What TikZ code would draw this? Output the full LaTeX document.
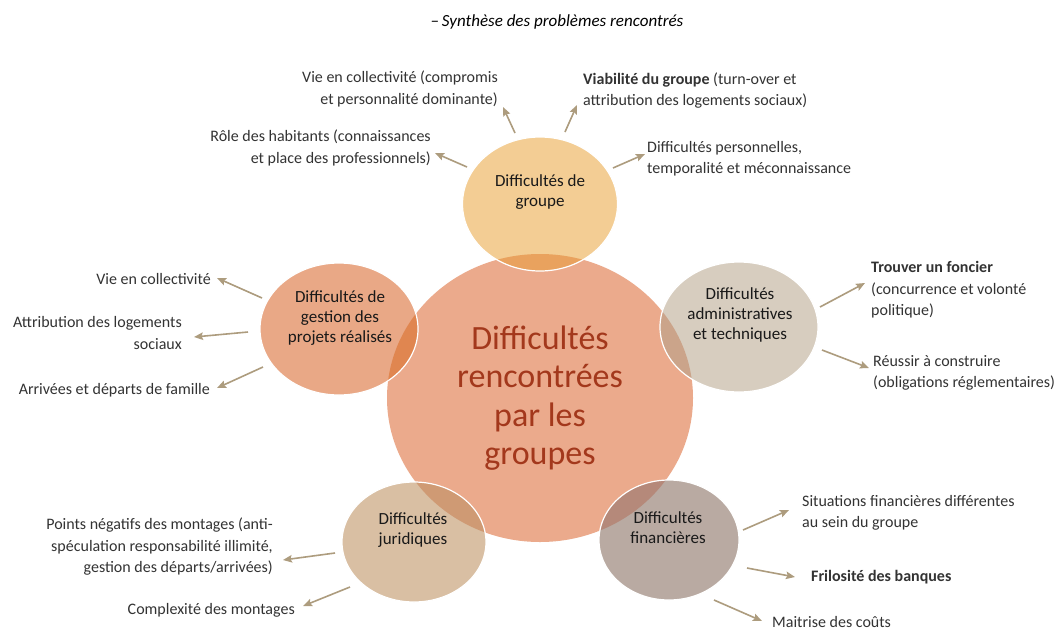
\documentclass[tikz,border=0pt]{standalone}
\usepackage{fontspec}
\setmainfont{Carlito}
\usetikzlibrary{shapes.geometric,arrows.meta}
\definecolor{ctrc}{HTML}{EBAA8C}
\definecolor{ctrt}{HTML}{A3381C}
\definecolor{grpc}{HTML}{F3CD94}
\definecolor{grpo}{HTML}{E9A25E}
\definecolor{gesc}{HTML}{E9A886}
\definecolor{geso}{HTML}{E08650}
\definecolor{admc}{HTML}{D7CDBF}
\definecolor{admo}{HTML}{CBA48A}
\definecolor{jurc}{HTML}{D9BFA3}
\definecolor{juro}{HTML}{CF9A74}
\definecolor{finc}{HTML}{B9AAA2}
\definecolor{fino}{HTML}{B5897A}
\definecolor{arrc}{HTML}{AD9C7E}
\definecolor{labc}{HTML}{333333}
\newcommand\mybub[7]{%
  \node[ellipse, inner sep=0pt, outer sep=0pt, minimum width={2*#4pt}, minimum height={2*#5pt}, fill=#6] (#1) at (#2,#3) {};
  \begin{scope}
    \clip (540,398) ellipse [x radius=153, y radius=144];
    \fill[#7] (#2,#3) ellipse [x radius=#4, y radius=#5];
  \end{scope}
  \draw[white, line width=1.2pt] (#2,#3) ellipse [x radius=#4, y radius=#5];
}
\begin{document}
\begin{tikzpicture}[x=1pt,y=-1pt,
  lab/.style={font=\fontsize{16}{21.5}\selectfont, text=labc, inner sep=0pt},
  bubtext/.style={font=\fontsize{17}{20}\selectfont, text=black!90, align=center, inner sep=0pt},
  arr/.style={draw=arrc, line width=1.6pt, -{Stealth[length=9pt,width=7.5pt,inset=1.5pt]}}]
\useasboundingbox (0,0) rectangle (1063,630);
\fill[white] (0,0) rectangle (1063,630);

% title
\node[font=\fontsize{17}{20}\selectfont\itshape, text=black, inner sep=0pt] (title) at (557,22) {–\,Synthèse des problèmes rencontrés};

% central
\node[ellipse, inner sep=0pt, minimum width=306pt, minimum height=288pt, fill=ctrc] (ctr) at (540,398) {};

% bubbles
\mybub{grp}{540}{204}{77.5}{67}{grpc}{grpo}
\mybub{ges}{339}{329}{79}{66}{gesc}{geso}
\mybub{adm}{739}{327}{79}{65}{admc}{admo}
\mybub{jur}{414}{542}{72}{60}{jurc}{juro}
\mybub{fin}{669}{540}{70}{60}{finc}{fino}

% bubble texts
\node[font=\fontsize{34}{38.5}\selectfont, text=ctrt, align=center, inner sep=0pt] (ctrt) at (540,398) {Difficultés\\rencontrées\\par les\\groupes};
\node[bubtext] (grpt) at (540,192) {Difficultés de\\groupe};
\node[bubtext] (gest) at (340,318) {Difficultés de\\gestion des\\projets réalisés};
\node[bubtext] (admt) at (740,315) {Difficultés\\administratives\\et techniques};
\node[bubtext] (jurt) at (413,530) {Difficultés\\juridiques};
\node[bubtext] (fint) at (668,528) {Difficultés\\financières};

% labels
\node[lab, anchor=east, align=right] (l1) at (498,89) {Vie en collectivité (compromis\\et personnalité dominante)};
\node[lab, anchor=east, align=right] (l2) at (431,148) {Rôle des habitants (connaissances\\et place des professionnels)};
\node[lab, anchor=west, align=left] (l3) at (583,90.5) {\textbf{Viabilité du groupe} (turn-over et\\attribution des logements sociaux)};
\node[lab, anchor=west, align=left] (l4) at (647,158.5) {Difficultés personnelles,\\temporalité et méconnaissance};
\node[lab, anchor=east] (l5) at (211,279) {Vie en collectivité};
\node[lab, anchor=east, align=right] (l6) at (182,333) {Attribution des logements\\sociaux};
\node[lab, anchor=east] (l7) at (210,390) {Arrivées et départs de famille};
\node[lab, anchor=west, align=left] (l8) at (871,290) {\textbf{Trouver un foncier}\\(concurrence et volonté\\politique)};
\node[lab, anchor=west, align=left] (l9) at (873,373) {Réussir à construire\\(obligations réglementaires)};
\node[lab, anchor=east, align=right] (l10) at (273,547) {Points négatifs des montages (anti-\\spéculation responsabilité illimité,\\gestion des départs/arrivées)};
\node[lab, anchor=east] (l11) at (295,610) {Complexité des montages};
\node[lab, anchor=west, align=left] (l12) at (802,513) {Situations financières différentes\\au sein du groupe};
\node[lab, anchor=west, font=\fontsize{16}{21.5}\selectfont\bfseries] (l13) at (811,577) {Frilosité des banques};
\node[lab, anchor=west] (l14) at (772,622) {Maitrise des coûts};

% arrow coordinates
\coordinate (g1s) at (515,133); \coordinate (g1e) at (503,107);
\coordinate (g2s) at (565,132); \coordinate (g2e) at (577,105);
\coordinate (g3s) at (467,167); \coordinate (g3e) at (435,153);
\coordinate (g4s) at (613,168); \coordinate (g4e) at (645,154);
\coordinate (e1s) at (262,298); \coordinate (e1e) at (217,278);
\coordinate (e2s) at (248,332); \coordinate (e2e) at (194,337);
\coordinate (e3s) at (263,367); \coordinate (e3e) at (217,388);
\coordinate (a1s) at (820,307); \coordinate (a1e) at (865,283);
\coordinate (a2s) at (822,350); \coordinate (a2e) at (869,368);
\coordinate (j1s) at (335,553); \coordinate (j1e) at (283,560);
\coordinate (j2s) at (350,587); \coordinate (j2e) at (303,606);
\coordinate (f1s) at (743,530); \coordinate (f1e) at (789,510);
\coordinate (f2s) at (747,568); \coordinate (f2e) at (795,577);
\coordinate (f3s) at (714,600); \coordinate (f3e) at (762,621);

\foreach \a in {g1,g2,g3,g4,e1,e2,e3,a1,a2,j1,j2,f1,f2,f3}
  \draw[arr] (\a s) -- (\a e);
\end{tikzpicture}
\end{document}
